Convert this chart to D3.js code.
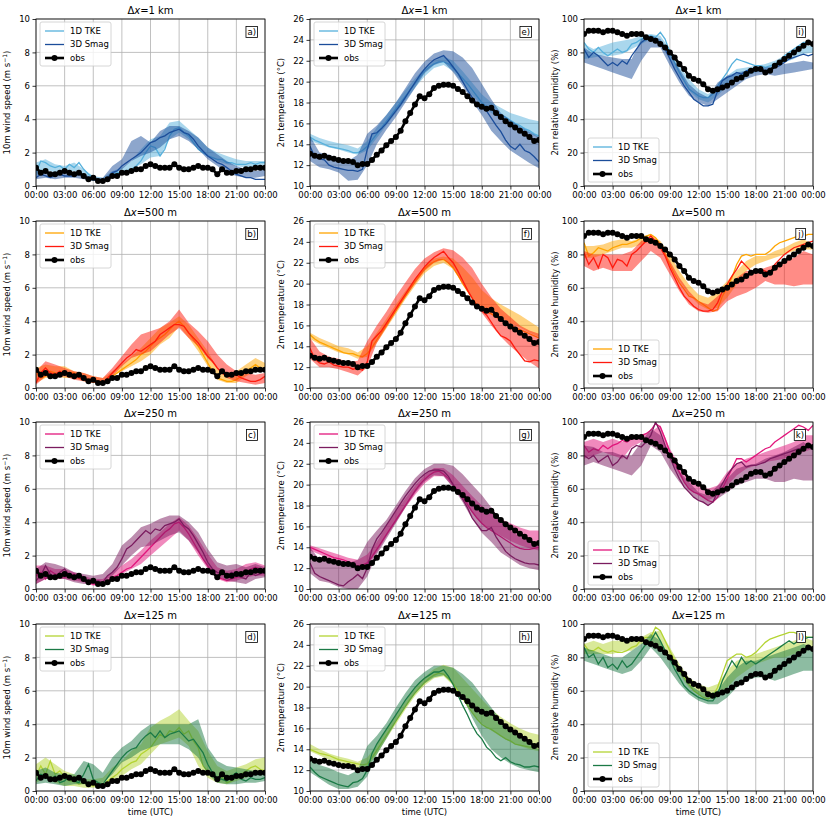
<!DOCTYPE html>
<html>
<head>
<meta charset="utf-8">
<script src="https://cdn.jsdelivr.net/npm/d3@7"></script>
<style>
  body { margin: 0; background: #fff; }
  text { font-family: "DejaVu Sans", sans-serif; }
</style>
</head>
<body>
<svg id="fig" width="830" height="822"></svg>
<script>
// ---- data ----
const hoursObs = d3.range(0, 24.01, 0.5);   // 30-min obs / model line times
const hoursBand = d3.range(0, 24.01, 1);    // hourly model spread times

const resolutions = ["1 km", "500 m", "250 m", "125 m"];
const panelLetters = [["a)", "e)", "i)"], ["b)", "f)", "j)"], ["c)", "g)", "k)"], ["d)", "h)", "l)"]];
const tkeColors = ["#56b0dc", "#ffa500", "#e2167c", "#b4d433"];
const smagColors = ["#1b4d9a", "#ff1a0e", "#7b1c5f", "#1b7a46"];
const xTicks = [0, 3, 6, 9, 12, 15, 18, 21, 24];

const windObs = [1.1,0.8,0.9,0.7,0.7,0.8,0.9,0.8,0.7,0.8,0.6,0.4,
  0.5,0.3,0.3,0.4,0.6,0.6,0.8,0.8,0.9,1.0,1.0,1.2,
  1.3,1.2,1.1,1.1,1.1,1.3,1.1,1.0,1.0,1.1,1.2,1.1,
  1.1,1.0,0.7,1.0,0.8,0.8,0.9,0.9,1.0,1.0,1.1,1.1,
  1.1];
const tempObs = [13.1,12.9,12.8,12.9,12.7,12.6,12.5,12.4,12.4,12.3,12.0,12.1,
  12.1,12.5,13.0,13.4,13.9,14.3,14.7,15.3,16.2,17.0,17.8,18.6,
  18.4,18.8,19.4,19.6,19.7,19.7,19.6,19.3,19.0,18.6,18.2,17.8,
  17.6,17.4,17.5,17.0,16.6,16.2,15.9,15.6,15.3,15.0,14.7,14.3,
  14.4];
const rhObs = [91,93,93,93,92,93,93,92,91,90,91,91,
  91,89,88,87,85,83,80,77,73,70,66,64,
  63,61,58,57,58,59,60,62,64,65,67,69,
  70,70,68,69,72,74,76,78,80,82,84,86,
  85];

// wind, 1 km
const windTke1km = [0.8,1.5,1.4,1.2,1.1,1.2,1.0,1.3,1.1,1.4,1.0,0.7,
  0.5,0.3,0.3,0.4,0.7,0.8,0.8,0.9,1.0,1.2,1.5,2.0,
  2.4,2.3,1.8,2.2,3.0,3.4,3.5,3.2,3.0,2.6,2.2,2.0,
  1.8,1.7,1.6,1.6,1.4,1.4,1.3,1.3,1.3,1.4,1.3,1.4,
  1.4];
const windTke1kmBand = [[0.6,1.4],[1.0,1.6],[0.8,1.3],[0.8,1.2],[0.9,1.4],[0.5,1.0],[0.3,0.6],[0.3,0.5],[0.6,0.9],[0.8,1.1],[1.0,1.5],[1.3,2.2],[1.7,2.8],[1.8,3.0],[2.8,3.8],[3.2,3.9],[2.8,3.4],[2.2,2.9],[1.8,2.3],[1.5,2.0],[1.3,1.8],[1.2,1.6],[1.1,1.5],[1.0,1.5],[1.3,1.5]];
const windSmag1km = [0.5,0.7,0.6,0.5,0.6,0.7,0.6,0.6,0.6,0.7,0.6,0.5,
  0.4,0.3,0.3,0.5,0.8,0.9,1.2,1.4,1.6,1.8,2.0,2.3,
  2.6,2.7,2.9,3.0,3.2,3.3,3.4,3.2,3.1,2.8,2.4,2.1,
  1.8,1.6,1.4,1.3,1.1,0.9,0.7,0.6,0.5,0.5,0.4,0.4,
  0.4];
const windSmag1kmBand = [[0.4,1.0],[0.5,0.9],[0.4,0.8],[0.5,0.8],[0.5,0.8],[0.4,0.7],[0.3,0.5],[0.3,0.5],[0.7,1.2],[1.0,1.6],[1.5,2.7],[1.8,3.0],[2.0,2.6],[2.3,3.3],[2.8,3.6],[3.0,3.6],[2.7,3.3],[2.2,2.9],[1.6,2.3],[1.2,1.9],[0.8,1.5],[0.6,1.2],[0.5,1.0],[0.5,0.9],[0.6,1.0]];

// wind, 500 m
const windTke500 = [1.0,0.6,0.7,1.0,0.9,0.8,0.8,0.9,0.9,0.7,0.6,0.5,
  0.4,0.3,0.3,0.5,0.7,0.9,1.1,1.3,1.5,1.7,2.0,2.2,
  2.5,2.8,3.0,3.2,3.5,3.8,4.0,3.7,3.3,2.9,2.5,2.0,
  1.5,1.0,0.6,0.5,0.4,0.4,0.5,0.7,1.0,1.2,1.4,1.2,
  1.0];
const windTke500Band = [[0.3,1.2],[0.6,1.4],[0.7,1.3],[0.6,1.3],[0.6,1.0],[0.4,0.9],[0.3,0.7],[0.3,0.6],[0.7,1.0],[1.0,1.4],[1.3,1.9],[1.6,2.4],[2.0,3.0],[2.6,3.6],[3.0,3.9],[3.7,4.3],[3.0,3.8],[2.2,3.0],[1.3,2.2],[0.5,1.2],[0.3,0.9],[0.3,1.0],[0.7,1.4],[1.0,1.8],[1.0,1.5]];
const windSmag500 = [0.3,0.9,1.2,0.9,0.8,1.0,0.8,0.9,0.8,0.6,0.5,0.5,
  0.4,0.4,0.3,0.6,0.9,1.2,1.5,1.8,2.0,2.3,2.2,2.4,
  2.6,2.8,3.2,3.4,3.6,3.8,3.8,3.7,3.3,3.0,2.7,2.3,
  1.9,1.6,1.2,0.9,0.7,0.7,0.8,0.6,0.5,0.4,0.4,0.5,
  0.7];
const windSmag500Band = [[0.2,1.0],[0.7,1.6],[0.6,1.4],[0.7,1.2],[0.5,1.0],[0.4,0.9],[0.3,0.7],[0.3,0.6],[0.7,1.2],[1.3,1.9],[1.8,2.6],[2.0,3.2],[2.2,3.4],[2.7,3.6],[3.2,4.0],[3.6,4.7],[3.0,3.9],[2.5,3.4],[1.8,2.8],[1.2,2.0],[0.6,1.4],[0.4,1.0],[0.3,0.9],[0.2,0.8],[0.3,0.9]];

// wind, 250 m
const windTke250 = [0.8,1.0,0.6,1.1,0.9,0.8,0.7,0.8,0.9,0.6,0.5,0.4,
  0.3,0.3,0.3,0.5,0.7,0.8,1.0,1.2,1.3,1.6,1.9,2.2,
  2.5,2.8,3.1,3.4,3.6,3.9,4.0,3.7,3.3,2.8,2.3,1.8,
  1.4,1.0,0.7,0.6,0.5,0.6,0.7,0.8,1.0,1.2,1.3,1.2,
  1.1];
const windTke250Band = [[0.3,1.4],[0.6,1.4],[0.6,1.2],[0.6,1.2],[0.5,1.0],[0.4,0.8],[0.2,0.6],[0.3,0.6],[0.6,1.0],[0.9,1.4],[1.2,1.8],[1.5,2.3],[2.0,2.9],[2.5,3.4],[3.0,3.9],[3.5,4.3],[2.9,3.8],[2.0,3.0],[1.2,2.1],[0.6,1.3],[0.4,1.1],[0.5,1.2],[0.7,1.5],[0.8,1.6],[0.8,1.4]];
const windSmag250 = [0.5,0.8,1.4,0.9,0.7,1.0,1.2,0.8,0.6,0.7,0.6,0.4,
  0.4,0.5,0.4,0.8,1.0,1.3,1.8,2.4,2.6,2.9,3.2,3.5,
  3.3,3.6,3.5,3.8,3.9,4.0,4.2,3.8,3.6,3.2,2.7,2.2,
  1.6,1.2,1.0,0.9,0.8,1.0,0.8,0.7,0.6,1.0,0.8,0.9,
  1.0];
const windSmag250Band = [[0.3,1.2],[0.6,1.6],[0.6,1.5],[0.6,1.3],[0.4,1.0],[0.3,0.9],[0.3,0.8],[0.4,0.9],[0.8,1.5],[1.4,2.6],[2.0,3.1],[2.5,3.7],[2.6,3.9],[2.9,4.2],[3.2,4.4],[3.4,4.4],[2.9,4.0],[2.2,3.4],[1.3,2.4],[0.8,1.6],[0.5,1.4],[0.4,1.5],[0.3,1.3],[0.6,1.5],[0.7,1.3]];

// wind, 125 m
const windTke125 = [0.9,1.5,1.0,1.8,1.0,1.2,0.8,0.6,0.6,0.4,0.5,0.4,
  0.3,0.4,0.3,0.6,0.8,1.0,1.3,1.5,1.7,1.8,2.2,2.4,
  2.6,3.0,3.4,3.2,3.6,3.5,3.8,3.4,3.6,3.0,2.6,1.5,
  1.2,1.0,0.6,0.8,0.5,0.6,0.9,1.0,1.2,1.4,1.5,1.3,
  1.2];
const windTke125Band = [[0.5,1.6],[0.8,2.0],[0.5,1.6],[0.3,1.2],[0.3,1.0],[0.2,0.7],[0.2,0.7],[0.3,0.8],[0.6,1.4],[0.9,1.8],[1.3,2.4],[1.6,2.8],[2.2,3.8],[2.8,4.2],[3.0,4.5],[3.2,4.9],[2.7,4.2],[1.5,3.6],[0.8,2.4],[0.5,1.5],[0.4,1.2],[0.6,1.4],[0.8,1.6],[1.0,1.9],[1.0,2.0]];
const windSmag125 = [0.6,1.0,0.9,0.6,0.9,0.5,0.6,0.9,0.6,0.5,1.0,1.6,
  0.7,0.5,0.4,0.8,1.2,1.6,2.0,2.3,2.5,2.6,3.0,3.3,
  3.5,3.2,3.6,3.2,3.4,3.5,3.6,3.3,3.0,3.1,2.7,2.3,
  1.6,1.1,0.8,0.7,0.6,0.9,1.1,0.7,0.6,0.8,0.7,0.7,
  0.8];
const windSmag125Band = [[0.4,1.2],[0.5,1.4],[0.4,1.1],[0.3,1.0],[0.4,1.0],[0.4,1.8],[0.4,1.6],[0.5,1.1],[1.0,2.0],[1.7,2.6],[2.0,3.0],[2.4,3.6],[2.6,4.0],[2.8,4.0],[2.8,4.0],[2.8,4.0],[2.5,4.0],[2.0,4.3],[1.0,2.6],[0.5,1.8],[0.4,1.5],[0.4,1.4],[0.5,1.3],[0.5,1.2],[0.6,1.2]];

// temperature, 1 km
const tempTke1km = [14.7,14.4,14.2,14.0,13.8,13.7,13.6,13.5,13.4,13.2,13.2,13.4,
  13.8,14.4,15.0,15.6,16.2,16.8,17.4,18.0,18.6,19.2,19.8,20.4,
  21.0,21.4,21.7,21.9,21.9,21.7,21.3,20.8,20.3,19.8,19.2,18.6,
  18.0,17.6,17.3,17.1,16.8,16.6,16.3,16.0,15.8,15.5,15.3,15.0,
  14.8];
const tempTke1kmBand = [[14.3,15.0],[14.0,14.6],[13.7,14.3],[13.5,14.1],[13.2,13.9],[13.0,13.6],[13.4,14.3],[14.6,15.6],[15.8,16.8],[17.0,18.0],[18.2,19.2],[19.4,20.3],[20.5,21.3],[21.3,22.0],[21.6,22.4],[21.0,22.0],[19.9,21.0],[18.7,19.9],[17.7,18.8],[17.0,18.0],[16.4,17.5],[15.9,17.0],[15.4,16.7],[15.0,16.4],[14.6,16.2]];
const tempSmag1km = [13.8,12.8,12.6,12.5,12.0,11.8,11.7,11.6,11.5,11.5,11.4,11.6,
  13.5,15.0,15.1,15.5,16.0,16.6,17.2,17.8,18.5,19.2,19.9,20.6,
  21.2,21.7,22.1,22.3,22.5,22.0,21.4,20.8,20.0,19.2,18.5,17.8,
  17.5,17.2,16.5,15.8,15.2,14.4,13.8,13.5,14.0,13.4,13.2,12.8,
  12.3];
const tempSmag1kmBand = [[12.4,14.8],[11.8,13.2],[11.6,13.0],[11.3,12.6],[10.5,12.4],[10.6,13.0],[12.0,15.0],[14.0,15.8],[15.4,16.8],[16.6,18.0],[18.0,19.4],[19.4,20.8],[20.8,21.9],[21.6,22.7],[21.9,23.0],[20.9,22.9],[19.6,22.3],[18.1,21.3],[16.8,19.8],[15.3,18.3],[14.3,17.0],[13.4,16.3],[12.8,15.7],[12.2,15.2],[11.7,14.7]];

// temperature, 500 m
const tempTke500 = [15.1,14.7,14.4,14.2,14.0,13.8,13.6,13.4,13.3,13.3,13.1,13.0,
  13.3,13.9,14.6,15.3,16.0,16.7,17.4,18.1,18.8,19.5,20.2,20.8,
  21.4,21.8,22.1,22.3,22.3,22.0,21.5,20.8,20.0,19.3,18.6,18.0,
  17.6,17.3,17.1,16.8,16.5,16.2,16.0,15.8,15.6,15.4,15.2,15.0,
  14.8];
const tempTke500Band = [[14.7,15.3],[14.2,14.8],[13.8,14.4],[13.4,14.0],[13.2,13.8],[12.8,13.4],[13.0,14.0],[14.3,15.3],[15.7,16.6],[17.1,18.0],[18.5,19.3],[19.8,20.5],[21.0,21.7],[21.7,22.4],[22.0,22.6],[21.4,22.4],[20.0,21.6],[18.7,20.6],[17.7,19.4],[17.2,18.6],[16.7,18.0],[16.2,17.5],[15.8,17.0],[15.3,16.4],[14.9,15.8]];
const tempSmag500 = [13.8,12.8,12.4,12.3,12.5,12.2,12.1,12.0,12.0,11.8,11.9,11.7,
  12.5,14.5,15.0,15.5,16.2,16.9,17.6,18.3,19.0,19.7,20.4,21.0,
  21.6,22.1,22.5,22.8,23.1,22.5,22.0,21.2,20.3,19.4,18.6,17.8,
  17.4,17.0,16.3,15.6,15.0,14.8,14.5,13.8,13.2,12.6,12.5,12.7,
  12.6];
const tempSmag500Band = [[12.8,14.8],[12.0,13.5],[12.0,13.0],[11.8,12.8],[11.5,12.5],[11.2,12.6],[12.0,14.5],[14.3,16.0],[15.8,17.3],[17.3,18.8],[18.7,20.1],[20.0,21.4],[21.2,22.4],[22.0,23.0],[22.3,23.4],[21.5,23.2],[20.0,22.5],[18.5,21.5],[17.2,20.0],[16.0,18.7],[14.9,17.6],[14.0,16.8],[13.2,16.0],[12.5,15.5],[11.9,15.2]];

// temperature, 250 m
const tempTke250 = [14.0,13.8,13.6,13.4,13.2,13.0,12.9,12.8,12.6,12.4,12.2,12.3,
  12.5,13.1,13.8,14.5,15.2,15.9,16.6,17.3,18.0,18.7,19.4,20.0,
  20.5,20.9,21.2,21.3,21.0,20.6,20.0,19.4,18.8,18.1,17.4,16.8,
  16.3,15.9,15.6,15.3,15.0,14.7,14.4,14.1,13.9,13.8,13.8,13.9,
  14.0];
const tempTke250Band = [[13.7,14.2],[13.3,13.9],[12.9,13.6],[12.6,13.3],[12.3,13.0],[12.0,12.8],[12.3,13.3],[13.5,14.5],[15.0,16.0],[16.4,17.4],[17.8,18.7],[19.0,19.9],[20.1,20.9],[20.8,21.6],[20.8,21.6],[19.8,20.9],[18.6,19.9],[17.3,18.9],[16.3,18.0],[15.6,17.3],[15.1,16.7],[14.6,16.3],[14.2,15.9],[13.9,15.6],[13.7,15.6]];
const tempSmag250 = [12.5,11.5,11.2,11.0,10.8,10.6,10.4,10.3,10.7,11.0,11.4,11.0,
  12.0,13.8,14.8,15.4,16.1,16.8,17.5,18.2,18.9,19.5,20.1,20.6,
  21.0,21.3,21.4,21.4,21.3,20.8,20.0,19.3,18.6,17.8,16.8,16.2,
  15.6,15.6,15.9,15.0,14.3,13.6,13.2,12.9,12.7,12.5,12.4,12.4,
  12.3];
const tempSmag250Band = [[11.5,14.0],[10.8,12.8],[10.6,12.8],[10.2,12.8],[10.0,12.5],[10.0,12.8],[11.2,14.5],[13.3,15.6],[14.8,16.6],[16.3,18.0],[17.8,19.4],[19.2,20.6],[20.3,21.5],[20.9,22.0],[20.8,22.0],[19.7,21.8],[18.3,21.0],[16.7,20.0],[15.4,19.0],[14.5,17.8],[13.5,16.6],[12.9,15.6],[12.3,15.0],[12.0,14.6],[11.8,14.2]];

// temperature, 125 m
const tempTke125 = [14.0,13.8,13.6,13.5,13.4,13.2,13.0,12.9,12.8,12.7,12.6,12.5,
  12.6,13.2,13.9,14.6,15.3,16.0,16.7,17.4,18.1,18.8,19.4,19.9,
  20.4,20.8,21.1,21.3,21.2,20.8,20.3,19.6,18.9,18.2,17.5,16.9,
  16.4,16.1,15.9,15.6,15.3,15.0,14.8,14.5,14.4,14.3,14.2,14.2,
  14.3];
const tempTke125Band = [[13.8,14.5],[13.4,14.0],[13.0,13.6],[12.8,13.3],[12.5,13.1],[12.2,12.8],[12.3,13.2],[13.5,14.4],[15.0,15.9],[16.4,17.3],[17.8,18.6],[19.1,19.9],[20.1,20.9],[20.8,21.7],[21.0,22.1],[20.1,21.8],[18.8,20.8],[17.5,19.8],[16.5,18.8],[15.8,17.8],[15.2,17.1],[14.7,16.5],[14.3,16.0],[14.0,15.6],[13.8,15.4]];
const tempSmag125 = [12.3,11.8,11.4,11.2,11.0,10.8,10.6,10.5,10.4,10.8,10.9,11.2,
  12.0,13.6,14.5,15.2,15.9,16.6,17.3,18.0,18.7,19.3,19.9,20.4,
  20.8,21.1,21.4,21.4,21.6,21.0,20.2,19.2,18.2,17.3,16.3,15.5,
  15.0,14.2,13.8,13.2,12.9,13.2,12.8,12.6,12.5,12.3,12.3,12.4,
  12.3];
const tempSmag125Band = [[11.8,13.2],[11.2,12.5],[10.6,12.2],[10.2,11.8],[10.2,11.5],[10.4,12.0],[11.4,14.3],[13.5,15.3],[15.0,16.5],[16.6,18.0],[18.0,19.4],[19.3,20.6],[20.3,21.4],[20.9,22.0],[21.1,22.0],[20.3,21.8],[19.0,21.2],[17.0,20.4],[15.3,19.2],[14.0,18.0],[13.2,16.8],[12.6,15.8],[12.2,15.2],[12.0,14.5],[11.8,14.0]];

// relative humidity, 1 km
const rhTke1km = [86,82,80,83,80,78,80,82,80,81,85,86,
  88,89,90,89,92,88,80,74,68,63,58,56,
  54,53,53,55,60,64,68,73,76,75,74,73,
  72,72,71,72,73,75,78,80,82,84,86,86,
  85];
const rhTke1kmBand = [[76,85],[77,82],[78,84],[78,86],[79,87],[82,88],[85,90],[88,91],[85,90],[76,82],[66,72],[57,64],[52,58],[50,55],[54,60],[60,66],[63,70],[66,71],[68,72],[69,73],[71,75],[74,78],[76,81],[79,84],[80,84]];
const rhSmag1km = [82,77,80,78,75,72,74,72,75,73,78,82,
  86,88,89,87,86,82,76,70,65,60,56,52,
  50,48,48,49,57,63,65,66,68,67,69,70,
  70,70,69,70,71,72,74,76,77,78,79,78,
  79];
const rhSmag1kmBand = [[74,83],[72,79],[70,78],[68,77],[66,76],[64,76],[75,88],[83,90],[83,88],[72,79],[62,70],[54,61],[50,56],[48,53],[52,62],[56,66],[60,68],[64,69],[66,71],[67,71],[66,72],[67,73],[68,74],[69,75],[70,74]];

// relative humidity, 500 m
const rhTke500 = [87,79,81,84,83,82,84,85,86,86,87,88,
  90,91,92,90,86,80,74,68,63,59,55,54,
  52,50,48,46,47,55,60,66,74,79,80,79,
  80,80,80,82,85,87,88,89,90,91,91,92,
  92];
const rhTke500Band = [[78,85],[78,85],[80,86],[82,88],[84,89],[84,88],[86,90],[88,92],[84,88],[74,80],[64,70],[56,62],[50,56],[47,54],[48,58],[54,64],[62,70],[70,76],[74,79],[76,79],[78,82],[80,84],[82,87],[83,89],[83,86]];
const rhSmag500 = [81,74,78,72,80,78,72,77,76,73,80,82,
  85,88,91,88,84,79,72,66,60,55,52,49,
  47,46,46,47,51,58,62,67,71,76,73,70,
  70,71,70,69,74,77,80,82,84,85,86,87,
  88];
const rhSmag500Band = [[73,82],[70,80],[72,80],[70,80],[70,80],[70,82],[76,88],[82,90],[78,87],[68,76],[58,66],[50,58],[46,52],[45,50],[46,55],[52,60],[55,66],[57,70],[60,70],[64,72],[62,74],[62,76],[61,78],[62,82],[62,80]];

// relative humidity, 250 m
const rhTke250 = [86,82,84,83,86,84,86,87,89,88,90,91,
  92,93,95,99,97,90,82,76,70,64,60,58,
  57,55,53,52,55,60,66,72,78,78,76,78,
  80,82,84,85,88,90,92,94,96,98,97,95,
  98];
const rhTke250Band = [[78,88],[80,90],[82,88],[80,90],[78,88],[85,90],[88,92],[88,94],[86,98],[78,84],[68,74],[60,66],[56,62],[53,60],[56,62],[62,70],[68,75],[72,78],[74,80],[76,82],[77,84],[78,86],[80,88],[82,92],[84,92]];
const rhSmag250 = [80,78,80,76,78,80,74,76,80,78,84,86,
  85,88,92,100,94,86,79,72,66,61,58,55,
  53,52,50,52,58,63,68,72,75,76,73,74,
  74,75,76,78,79,80,81,82,83,84,84,85,
  86];
const rhSmag250Band = [[74,86],[76,85],[74,82],[72,82],[70,80],[68,80],[74,88],[86,96],[82,92],[72,80],[64,70],[58,64],[53,58],[50,56],[54,62],[58,66],[62,72],[64,74],[66,75],[66,78],[64,80],[64,82],[66,85],[65,88],[65,84]];

// relative humidity, 125 m
const rhTke125 = [88,84,84,86,84,83,84,83,83,84,86,87,
  91,92,92,98,96,90,84,78,72,68,64,60,
  58,56,55,57,62,70,78,80,82,82,80,81,
  83,86,89,91,92,93,94,95,95,94,93,92,
  92];
const rhTke125Band = [[82,88],[82,90],[82,88],[82,90],[84,90],[84,90],[88,92],[88,95],[86,96],[78,86],[70,76],[62,68],[58,64],[55,62],[56,64],[62,72],[68,78],[72,80],[76,82],[78,84],[80,86],[80,88],[82,90],[83,92],[86,90]];
const rhSmag125 = [86,80,82,76,80,74,76,73,78,74,76,80,
  84,88,90,95,90,84,79,73,68,63,60,58,
  56,55,54,54,58,66,72,78,74,80,76,78,
  76,78,80,82,84,86,88,90,88,90,91,92,
  92];
const rhSmag125Band = [[78,86],[76,84],[74,82],[72,80],[70,80],[72,84],[78,88],[86,94],[80,90],[72,80],[64,72],[58,64],[54,60],[52,58],[52,60],[56,68],[62,74],[66,78],[68,78],[68,80],[66,82],[68,84],[70,86],[72,88],[72,86]];

// ---- layout ----
const colLeft = [36, 310, 584];
const rowTop = [19, 221, 422, 624];
const PW = 229, PH = 167;
const FS = 8.5;

const variables = [
  { domain: [0, 10], ticks: [0, 2, 4, 6, 8, 10], label: "wind", obs: windObs, legendBottom: false,
    runs: [[windTke1km, windTke1kmBand, windSmag1km, windSmag1kmBand],
           [windTke500, windTke500Band, windSmag500, windSmag500Band],
           [windTke250, windTke250Band, windSmag250, windSmag250Band],
           [windTke125, windTke125Band, windSmag125, windSmag125Band]] },
  { domain: [10, 26], ticks: [10, 12, 14, 16, 18, 20, 22, 24, 26], label: "temp", obs: tempObs, legendBottom: false,
    runs: [[tempTke1km, tempTke1kmBand, tempSmag1km, tempSmag1kmBand],
           [tempTke500, tempTke500Band, tempSmag500, tempSmag500Band],
           [tempTke250, tempTke250Band, tempSmag250, tempSmag250Band],
           [tempTke125, tempTke125Band, tempSmag125, tempSmag125Band]] },
  { domain: [0, 100], ticks: [0, 20, 40, 60, 80, 100], label: "rh", obs: rhObs, legendBottom: true,
    runs: [[rhTke1km, rhTke1kmBand, rhSmag1km, rhSmag1kmBand],
           [rhTke500, rhTke500Band, rhSmag500, rhSmag500Band],
           [rhTke250, rhTke250Band, rhSmag250, rhSmag250Band],
           [rhTke125, rhTke125Band, rhSmag125, rhSmag125Band]] }
];

const svg = d3.select("#fig");
svg.append("rect").attr("width", 830).attr("height", 822).attr("fill", "white");

const x = d3.scaleLinear().domain([0, 24]).range([0, PW]);
const fmtHour = h => String(h % 24).padStart(2, "0") + ":00";

function yLabel(g, kind) {
  const t = g.append("text")
    .attr("transform", "translate(-26," + (PH / 2) + ") rotate(-90)")
    .attr("text-anchor", "middle")
    .attr("font-size", FS);
  if (kind === "wind") {
    t.append("tspan").text("10m wind speed (m s");
    t.append("tspan").attr("dy", -3.5).attr("font-size", 6).text("\u22121");
    t.append("tspan").attr("dy", 3.5).text(")");
  } else if (kind === "temp") {
    t.text("2m temperature (\u00b0C)");
  } else {
    t.text("2m relative humidity (%)");
  }
}

function drawPanel(ci, ri) {
  const v = variables[ci];
  const [tke, tkeBand, smag, smagBand] = v.runs[ri];
  const y = d3.scaleLinear().domain(v.domain).range([PH, 0]);
  const g = svg.append("g").attr("transform", "translate(" + colLeft[ci] + "," + rowTop[ri] + ")");
  const clipId = "clip" + ci + ri;
  g.append("clipPath").attr("id", clipId).append("rect").attr("width", PW).attr("height", PH);

  // grid
  g.append("g").selectAll("line").data(xTicks).enter().append("line")
    .attr("x1", d => x(d)).attr("x2", d => x(d)).attr("y1", 0).attr("y2", PH)
    .attr("stroke", "#b0b0b0").attr("stroke-width", 0.8);
  g.append("g").selectAll("line").data(v.ticks).enter().append("line")
    .attr("x1", 0).attr("x2", PW).attr("y1", d => y(d)).attr("y2", d => y(d))
    .attr("stroke", "#b0b0b0").attr("stroke-width", 0.8);

  const plot = g.append("g").attr("clip-path", "url(#" + clipId + ")");
  const area = d3.area().x((d, i) => x(hoursBand[i])).y0(d => y(d[0])).y1(d => y(d[1]));
  const line = d3.line().x((d, i) => x(hoursObs[i])).y(d => y(d));

  plot.append("path").datum(tkeBand).attr("d", area)
    .attr("fill", tkeColors[ri]).attr("fill-opacity", 0.5);
  plot.append("path").datum(tke).attr("d", line)
    .attr("fill", "none").attr("stroke", tkeColors[ri]).attr("stroke-width", 1.3);
  plot.append("path").datum(smagBand).attr("d", area)
    .attr("fill", smagColors[ri]).attr("fill-opacity", 0.5);
  plot.append("path").datum(smag).attr("d", line)
    .attr("fill", "none").attr("stroke", smagColors[ri]).attr("stroke-width", 1.3);

  plot.append("path").datum(v.obs).attr("d", line)
    .attr("fill", "none").attr("stroke", "black").attr("stroke-width", 2.6);
  plot.selectAll("circle").data(v.obs).enter().append("circle")
    .attr("cx", (d, i) => x(hoursObs[i])).attr("cy", d => y(d)).attr("r", 3).attr("fill", "black");

  // axes
  const xa = g.append("g").attr("transform", "translate(0," + PH + ")")
    .call(d3.axisBottom(x).tickValues(xTicks).tickFormat(fmtHour).tickSize(3.5).tickPadding(2.5));
  const ya = g.append("g")
    .call(d3.axisLeft(y).tickValues(v.ticks).tickSize(3.5).tickPadding(2.5));
  [xa, ya].forEach(a => {
    a.selectAll("text").attr("font-size", FS).attr("font-family", "DejaVu Sans").attr("fill", "black");
    a.selectAll("line").attr("stroke", "black").attr("stroke-width", 0.8);
    a.select(".domain").remove();
  });
  g.append("rect").attr("width", PW).attr("height", PH)
    .attr("fill", "none").attr("stroke", "black").attr("stroke-width", 0.8);

  // title
  const title = g.append("text").attr("x", PW / 2).attr("y", -5)
    .attr("text-anchor", "middle").attr("font-size", 10);
  title.append("tspan").text("\u0394");
  title.append("tspan").attr("font-style", "italic").text("x");
  title.append("tspan").text("=" + resolutions[ri]);

  // panel letter box
  const labBox = g.append("rect");
  const lab = g.append("text").attr("font-size", FS).attr("text-anchor", "end")
    .attr("x", PW - 9).attr("y", 16).text(panelLetters[ri][ci]);
  const bb = lab.node().getBBox();
  labBox.attr("x", bb.x - 1.5).attr("y", bb.y - 0.5).attr("width", bb.width + 3).attr("height", bb.height + 1)
    .attr("fill", "white").attr("stroke", "black").attr("stroke-width", 0.8);

  // legend
  const ly = v.legendBottom ? PH - 48 : 3;
  const leg = g.append("g").attr("transform", "translate(4," + ly + ")");
  leg.append("rect").attr("width", 71).attr("height", 44).attr("rx", 2)
    .attr("fill", "white").attr("fill-opacity", 0.8).attr("stroke", "#cccccc").attr("stroke-width", 0.8);
  const entries = [
    { name: "1D TKE", color: tkeColors[ri], w: 1.3 },
    { name: "3D Smag", color: smagColors[ri], w: 1.3 },
    { name: "obs", color: "black", w: 2.6, marker: true }
  ];
  entries.forEach((e, i) => {
    const ey = 9 + i * 13.5;
    leg.append("line").attr("x1", 5).attr("x2", 24).attr("y1", ey).attr("y2", ey)
      .attr("stroke", e.color).attr("stroke-width", e.w);
    if (e.marker) leg.append("circle").attr("cx", 14.5).attr("cy", ey).attr("r", 3).attr("fill", "black");
    leg.append("text").attr("x", 30).attr("y", ey).attr("dy", "0.35em")
      .attr("font-size", FS).text(e.name);
  });

  yLabel(g, v.label);
  if (ri === 3) {
    g.append("text").attr("x", PW / 2).attr("y", PH + 24).attr("text-anchor", "middle")
      .attr("font-size", FS).text("time (UTC)");
  }
}

variables.forEach((v, ci) => resolutions.forEach((r, ri) => drawPanel(ci, ri)));
</script>
</body>
</html>
